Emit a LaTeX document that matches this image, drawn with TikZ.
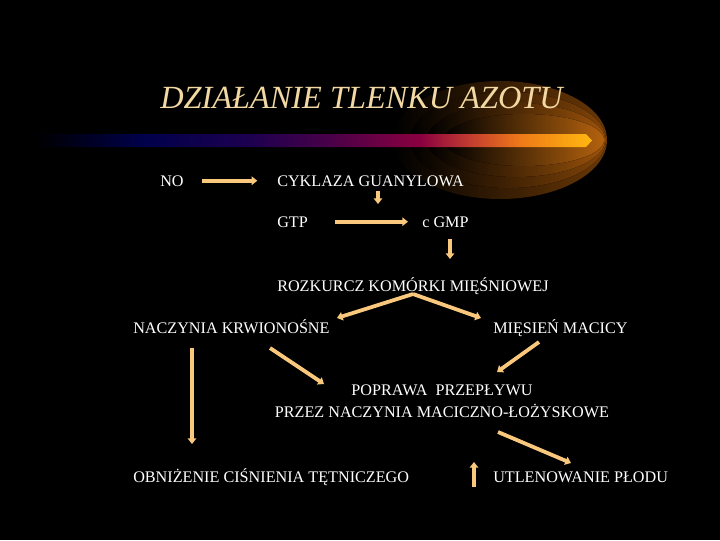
\documentclass[tikz,border=0pt]{standalone}
\usepackage{fontspec}
\setmainfont{Liberation Serif}
\usetikzlibrary{arrows.meta}
\definecolor{arrowc}{HTML}{FAC87C}
\definecolor{titlec}{HTML}{F2D8A2}
\definecolor{glowA}{HTML}{6A3806}
\definecolor{glowB}{HTML}{824408}
\definecolor{glowC}{HTML}{9A520A}
\definecolor{glowD}{HTML}{B4620E}
\definecolor{barA}{HTML}{00004A}
\definecolor{barB}{HTML}{1C0050}
\definecolor{barC}{HTML}{4A0048}
\definecolor{barD}{HTML}{8A0040}
\definecolor{barE}{HTML}{C03A30}
\definecolor{barF}{HTML}{EF7A18}
\definecolor{barG}{HTML}{FFB810}
\pgfdeclarehorizontalshading{barshade}{100bp}{color(0bp)=(black); color(28bp)=(black);
  color(37bp)=(barA); color(46bp)=(barB); color(53bp)=(barC);
  color(60.5bp)=(barD); color(64.5bp)=(barE); color(69bp)=(barF);
  color(75bp)=(barG); color(100bp)=(barG)}
\begin{document}
\begin{tikzpicture}[x=0.025cm,y=-0.025cm,
  txt/.style={anchor=base west,inner sep=0,text=white,font=\fontsize{11.5}{15}\selectfont},
  arr/.style={draw=arrowc,line width=2.7pt,-{Triangle[length=4pt,width=6pt]}}]
\fill[black] (0,0) rectangle (720,540);
% glow round the end of the bar
\fill[left color=black,right color=glowA] (500,140) ellipse (107 and 59);
\fill[left color=black,right color=glowB] (508,140) ellipse (98 and 48);
\fill[left color=black,right color=glowC] (516,140) ellipse (89 and 37);
\fill[left color=black,right color=glowD] (524,140) ellipse (80 and 26);
\shade[shading=barshade] (0,134) -- (586,134) -- (592,140.5) -- (586,147) -- (0,147) -- cycle;
\node[anchor=base west,inner sep=0,text=titlec,font=\fontsize{23}{28}\selectfont\itshape] (title) at (160,108) {DZIAŁANIE TLENKU AZOTU};
\node[txt] (no) at (160,186) {NO};
\node[txt] (cykl) at (277,186) {CYKLAZA GUANYLOWA};
\node[txt] (gtp) at (277,227) {GTP};
\node[txt] (cgmp) at (422,227) {c GMP};
\node[txt] (rozk) at (277,291) {ROZKURCZ KOMÓRKI MIĘŚNIOWEJ};
\node[txt] (nacz) at (133,333) {NACZYNIA KRWIONOŚNE};
\node[txt] (miesien) at (493,333) {MIĘSIEŃ MACICY};
\node[anchor=north,inner sep=0,text=white,align=center,font=\fontsize{11.5}{15}\selectfont] (popr) at (442,385) {POPRAWA\ \ PRZEPŁYWU\\PRZEZ NACZYNIA MACICZNO-ŁOŻYSKOWE};
\node[txt] (obniz) at (133,482) {OBNIŻENIE CIŚNIENIA TĘTNICZEGO};
\node[txt] (utlen) at (493,482) {UTLENOWANIE PŁODU};
\coordinate (c1) at (378,191);
\coordinate (c2) at (378,204);
\coordinate (c3) at (450,239);
\coordinate (c4) at (450,259);
\coordinate (r0) at (413,294);
\coordinate (r1) at (337,318);
\coordinate (r2) at (481,318);
\coordinate (n1) at (192,348);
\coordinate (n2) at (192,444);
\coordinate (n3) at (270,348);
\coordinate (p1) at (324,384);
\coordinate (m1) at (539,342);
\coordinate (p2) at (497,372);
\coordinate (p3) at (498,432);
\coordinate (u1) at (571,463);
\coordinate (u2) at (474,487);
\coordinate (u3) at (474,462);
\draw[arr,shorten <=13pt,shorten >=14pt] (no.east) -- (cykl.west |- no.east);
\draw[arr] (c1) -- (c2);
\draw[arr,shorten <=19pt,shorten >=10pt] (gtp.east) -- (cgmp.west |- gtp.east);
\draw[arr] (c3) -- (c4);
\draw[arr] (r0) -- (r1);
\draw[arr] (r0) -- (r2);
\draw[arr] (n1) -- (n2);
\draw[arr] (n3) -- (p1);
\draw[arr] (m1) -- (p2);
\draw[arr] (p3) -- (u1);
\draw[arr] (u2) -- (u3);
\end{tikzpicture}
\end{document}
